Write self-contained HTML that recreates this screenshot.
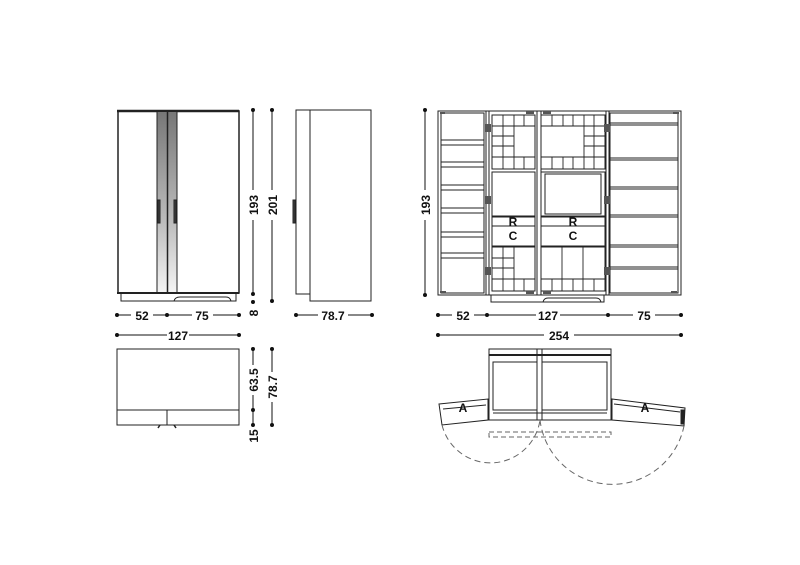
<!DOCTYPE html>
<html><head><meta charset="utf-8"><style>
html,body{margin:0;padding:0;background:#fff;width:800px;height:565px;overflow:hidden}
svg{display:block}
text{font-family:"Liberation Sans",Arial,sans-serif;font-weight:bold;font-size:12px;fill:#111}
</style></head><body>
<svg width="800" height="565" viewBox="0 0 800 565" xmlns="http://www.w3.org/2000/svg">
<defs>
<linearGradient id="g" x1="0" y1="0" x2="0" y2="1">
<stop offset="0" stop-color="#777"/><stop offset="0.6" stop-color="#bbb"/><stop offset="1" stop-color="#f4f4f4"/>
</linearGradient>
</defs>
<g fill="none" stroke="#222" stroke-width="1">
<!-- FRONT VIEW -->
<rect x="118" y="111" width="121" height="182" stroke-width="1.5"/>
<line x1="117" y1="111" x2="239" y2="111" stroke-width="2.5"/>
<line x1="117" y1="293" x2="239" y2="293" stroke-width="2"/>
<rect x="157" y="112" width="10" height="180" fill="url(#g)" stroke="none"/>
<rect x="168" y="112" width="9" height="180" fill="url(#g)" stroke="none"/>
<line x1="157" y1="112" x2="157" y2="292"/>
<line x1="177" y1="112" x2="177" y2="292"/>
<line x1="167.5" y1="111" x2="167.5" y2="293" stroke-width="1.5"/>
<rect x="158" y="200" width="2" height="23" fill="#444"/>
<rect x="174" y="200" width="2" height="23" fill="#444"/>
<rect x="121" y="293" width="115" height="8"/>
<path d="M174 301 Q175 297 180 297 L226 297 Q230 297 231 301"/>
<!-- SIDE VIEW -->
<rect x="296" y="110" width="14" height="184"/>
<rect x="310" y="110" width="61" height="191"/>
<rect x="293" y="200" width="2" height="23" fill="#444"/>
<!-- RIGHT FRONT OPEN -->
<rect x="438" y="111" width="243" height="184"/>
<rect x="441" y="113" width="43" height="180"/>
<rect x="610" y="113" width="68" height="180"/>
<line x1="486" y1="111" x2="486" y2="295"/><line x1="489" y1="111" x2="489" y2="295"/>
<line x1="606" y1="111" x2="606" y2="295"/><line x1="609" y1="111" x2="609" y2="295"/>
<line x1="537" y1="111" x2="537" y2="295"/><line x1="541" y1="111" x2="541" y2="295"/>
<rect x="491" y="295" width="113" height="7"/>
<path d="M543 302 Q544 298 548 298 L596 298 Q600 298 601 302"/>
<!-- left wing shelves -->
<g stroke-width="1">
<line x1="441" y1="140" x2="484" y2="140"/><line x1="441" y1="145" x2="484" y2="145"/>
<line x1="441" y1="162" x2="484" y2="162"/><line x1="441" y1="167" x2="484" y2="167"/>
<line x1="441" y1="185" x2="484" y2="185"/><line x1="441" y1="190" x2="484" y2="190"/>
<line x1="441" y1="208" x2="484" y2="208"/><line x1="441" y1="213" x2="484" y2="213"/>
<line x1="441" y1="232" x2="484" y2="232"/><line x1="441" y1="237" x2="484" y2="237"/>
<line x1="441" y1="253" x2="484" y2="253"/><line x1="441" y1="258" x2="484" y2="258"/>
<line x1="610" y1="123" x2="678" y2="123"/><line x1="610" y1="125" x2="678" y2="125"/>
<line x1="610" y1="158" x2="678" y2="158"/><line x1="610" y1="160" x2="678" y2="160"/>
<line x1="610" y1="187" x2="678" y2="187"/><line x1="610" y1="189" x2="678" y2="189"/>
<line x1="610" y1="215" x2="678" y2="215"/><line x1="610" y1="217" x2="678" y2="217"/>
<line x1="610" y1="245" x2="678" y2="245"/><line x1="610" y1="247" x2="678" y2="247"/>
<line x1="610" y1="267" x2="678" y2="267"/><line x1="610" y1="269" x2="678" y2="269"/>
</g>
<!-- centre left -->
<rect x="492" y="115" width="43" height="54"/>
<rect x="541" y="115" width="64" height="54"/>
<g stroke-width="0.9">
<line x1="492" y1="126" x2="535" y2="126"/><line x1="492" y1="157" x2="535" y2="157"/>
<line x1="503" y1="115" x2="503" y2="169"/><line x1="514" y1="115" x2="514" y2="169"/><line x1="524" y1="115" x2="524" y2="126"/><line x1="524" y1="157" x2="524" y2="169"/>
<line x1="492" y1="136" x2="514" y2="136"/><line x1="492" y1="146" x2="514" y2="146"/>
<line x1="541" y1="126" x2="605" y2="126"/><line x1="541" y1="157" x2="605" y2="157"/>
<line x1="552" y1="115" x2="552" y2="126"/><line x1="563" y1="115" x2="563" y2="126"/><line x1="573" y1="115" x2="573" y2="126"/><line x1="584" y1="115" x2="584" y2="169"/><line x1="594" y1="115" x2="594" y2="169"/>
<line x1="552" y1="157" x2="552" y2="169"/><line x1="563" y1="157" x2="563" y2="169"/><line x1="573" y1="157" x2="573" y2="169"/>
<line x1="584" y1="136" x2="605" y2="136"/><line x1="584" y1="146" x2="605" y2="146"/>
</g>
<rect x="492" y="172" width="43" height="44"/>
<rect x="541" y="172" width="64" height="44"/>
<rect x="545" y="174" width="56" height="40"/>
<rect x="492" y="217" width="43" height="29"/>
<rect x="541" y="217" width="64" height="29"/>
<line x1="492" y1="226" x2="535" y2="226"/><line x1="541" y1="226" x2="605" y2="226"/>
<rect x="492" y="247" width="43" height="44"/>
<rect x="541" y="247" width="64" height="44"/>
<g stroke-width="0.9">
<line x1="503" y1="247" x2="503" y2="291"/><line x1="514" y1="247" x2="514" y2="291"/><line x1="524" y1="279" x2="524" y2="291"/>
<line x1="492" y1="258" x2="514" y2="258"/><line x1="492" y1="268" x2="514" y2="268"/><line x1="492" y1="279" x2="535" y2="279"/>
<line x1="562" y1="247" x2="562" y2="291"/><line x1="583" y1="247" x2="583" y2="291"/>
<line x1="541" y1="279" x2="605" y2="279"/>
<line x1="552" y1="279" x2="552" y2="291"/><line x1="573" y1="279" x2="573" y2="291"/><line x1="594" y1="279" x2="594" y2="291"/>
</g>
<!-- hinges -->
<g fill="#555" stroke="none">
<rect x="485" y="124" width="6" height="8"/><rect x="485" y="196" width="6" height="8"/><rect x="485" y="267" width="6" height="8"/>
<rect x="604" y="124" width="6" height="8"/><rect x="604" y="196" width="6" height="8"/><rect x="604" y="267" width="6" height="8"/>
<rect x="526" y="111" width="8" height="3"/><rect x="543" y="111" width="8" height="3"/>
<rect x="526" y="291" width="8" height="3"/><rect x="543" y="291" width="8" height="3"/>
<rect x="440" y="112" width="5" height="2"/><rect x="440" y="291" width="6" height="2"/>
<rect x="673" y="112" width="6" height="2"/><rect x="671" y="291" width="6" height="2"/>
</g>
<!-- PLAN LEFT -->
<rect x="117" y="349" width="122" height="76"/>
<line x1="117" y1="410" x2="239" y2="410"/>
<line x1="167" y1="410" x2="167" y2="425"/>
<path d="M158 428 l2 -3 M176 428 l-2 -3" stroke-width="1.5"/>
<!-- PLAN RIGHT -->
<rect x="489" y="349" width="122" height="71"/>
<line x1="489" y1="355" x2="611" y2="355" stroke-width="2"/>
<rect x="493" y="362" width="44" height="48"/>
<rect x="542" y="362" width="65" height="48"/>
<line x1="493" y1="413" x2="607" y2="413"/>
<rect x="537" y="349" width="5" height="71"/>
<polygon points="439,404 488,399 488,420 442,425"/>
<line x1="443" y1="409" x2="486" y2="405"/>
<polygon points="612,399 685,408 684,426 612,420"/>
<line x1="614" y1="404" x2="680" y2="412"/>
<rect x="681" y="410" width="3" height="14" fill="#222"/>
<rect x="489" y="432" width="122" height="5" stroke-dasharray="5,3" stroke="#666"/>
<path d="M442 425 A50 50 0 0 0 540 420" stroke-dasharray="6,4" stroke="#666"/>
<path d="M540 420 A73 73 0 0 0 684 426" stroke-dasharray="6,4" stroke="#666"/>
</g>
<g font-size="11" font-family="Liberation Sans" font-weight="bold" fill="#111" text-anchor="middle">
<text x="513" y="226">R</text><text x="513" y="240">C</text>
<text x="573" y="226">R</text><text x="573" y="240">C</text>
<text x="463" y="412">A</text><text x="645" y="412">A</text>
</g>
<!-- DIMENSIONS -->
<g stroke="#111" stroke-width="1" fill="#111">
<!-- helper: horizontal -->
<line x1="117" y1="315" x2="131" y2="315"/><line x1="153" y1="315" x2="167" y2="315"/>
<line x1="167" y1="315" x2="192" y2="315"/><line x1="213" y1="315" x2="239" y2="315"/>
<circle cx="117" cy="315" r="1.5"/><circle cx="167" cy="315" r="1.5"/><circle cx="239" cy="315" r="1.5"/>
<line x1="117" y1="335" x2="167" y2="335"/><line x1="189" y1="335" x2="239" y2="335"/>
<circle cx="117" cy="335" r="1.5"/><circle cx="239" cy="335" r="1.5"/>
<line x1="296" y1="315" x2="318" y2="315"/><line x1="348" y1="315" x2="372" y2="315"/>
<circle cx="296" cy="315" r="1.5"/><circle cx="372" cy="315" r="1.5"/>
<line x1="438" y1="315" x2="452" y2="315"/><line x1="474" y1="315" x2="487" y2="315"/>
<line x1="487" y1="315" x2="536" y2="315"/><line x1="560" y1="315" x2="608" y2="315"/>
<line x1="608" y1="315" x2="633" y2="315"/><line x1="655" y1="315" x2="681" y2="315"/>
<circle cx="438" cy="315" r="1.5"/><circle cx="487" cy="315" r="1.5"/><circle cx="608" cy="315" r="1.5"/><circle cx="681" cy="315" r="1.5"/>
<line x1="438" y1="335" x2="544" y2="335"/><line x1="574" y1="335" x2="681" y2="335"/>
<circle cx="438" cy="335" r="1.5"/><circle cx="681" cy="335" r="1.5"/>
<!-- vertical -->
<line x1="253" y1="110" x2="253" y2="190"/><line x1="253" y1="220" x2="253" y2="294"/>
<circle cx="253" cy="110" r="1.5"/><circle cx="253" cy="294" r="1.5"/><circle cx="253" cy="302" r="1.5"/>
<line x1="272" y1="110" x2="272" y2="190"/><line x1="272" y1="220" x2="272" y2="301"/>
<circle cx="272" cy="110" r="1.5"/><circle cx="272" cy="301" r="1.5"/>
<line x1="425" y1="110" x2="425" y2="190"/><line x1="425" y1="220" x2="425" y2="295"/>
<circle cx="425" cy="110" r="1.5"/><circle cx="425" cy="295" r="1.5"/>
<line x1="253" y1="349" x2="253" y2="365"/><line x1="253" y1="395" x2="253" y2="425"/>
<circle cx="253" cy="349" r="1.5"/><circle cx="253" cy="410" r="1.5"/><circle cx="253" cy="425" r="1.5"/>
<line x1="272" y1="349" x2="272" y2="372"/><line x1="272" y1="402" x2="272" y2="425"/>
<circle cx="272" cy="349" r="1.5"/><circle cx="272" cy="425" r="1.5"/>
</g>
<g font-family="Liberation Sans" font-size="13" fill="#111" text-anchor="middle" style="font-weight:normal">
<text x="142" y="320">52</text><text x="202" y="320">75</text><text x="178" y="340">127</text>
<text x="333" y="320">78.7</text>
<text x="463" y="320">52</text><text x="548" y="320">127</text><text x="644" y="320">75</text>
<text x="559" y="340">254</text>
<text transform="translate(258,205) rotate(-90)">193</text>
<text transform="translate(277,205) rotate(-90)">201</text>
<text transform="translate(258,313) rotate(-90)">8</text>
<text transform="translate(430,205) rotate(-90)">193</text>
<text transform="translate(258,380) rotate(-90)">63.5</text>
<text transform="translate(277,387) rotate(-90)">78.7</text>
<text transform="translate(258,436) rotate(-90)">15</text>
</g>
</svg>
</body></html>
